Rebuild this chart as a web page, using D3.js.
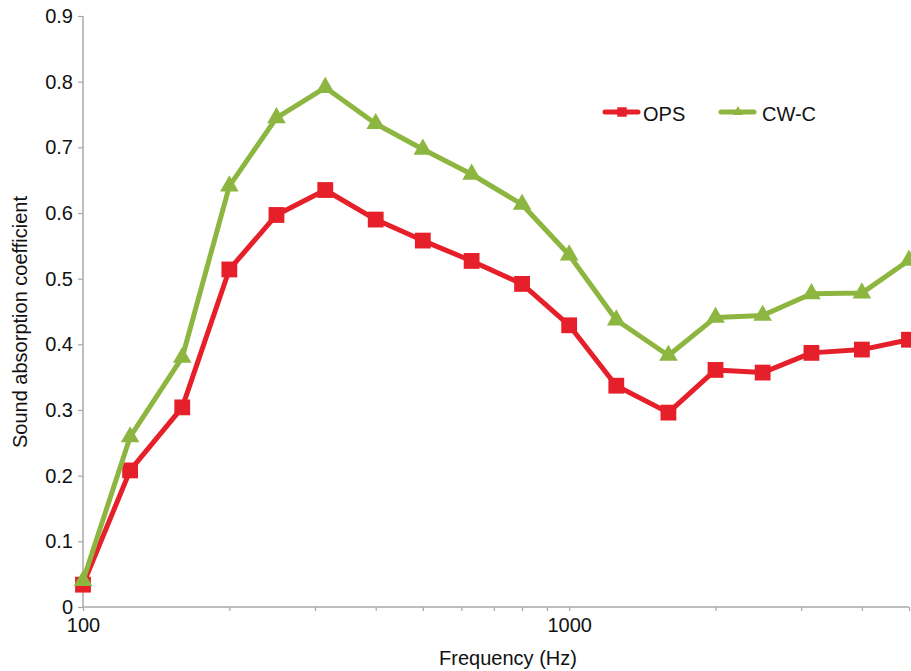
<!DOCTYPE html>
<html>
<head>
<meta charset="utf-8">
<script src="https://cdn.jsdelivr.net/npm/d3@7"></script>
<style>
  html, body { margin: 0; padding: 0; background: #fff; }
  svg { display: block; }
  text { font-family: "Liberation Sans", Arial, Helvetica, sans-serif; fill: #111; }
</style>
</head>
<body>
<svg id="chart" width="911" height="671"></svg>
<script>
// ---- data ----
const frequencies = [100, 125, 160, 200, 250, 315, 400, 500, 630, 800, 1000, 1250, 1600, 2000, 2500, 3150, 4000, 5000];
const opsValues  = [0.034, 0.208, 0.304, 0.514, 0.597, 0.635, 0.590, 0.558, 0.527, 0.492, 0.429, 0.337, 0.296, 0.361, 0.357, 0.387, 0.392, 0.407];
const cwcValues  = [0.040, 0.259, 0.380, 0.641, 0.745, 0.791, 0.736, 0.697, 0.659, 0.613, 0.536, 0.437, 0.383, 0.441, 0.444, 0.477, 0.478, 0.528];
const seriesNames = ["OPS", "CW-C"];
const yTicks = [0, 0.1, 0.2, 0.3, 0.4, 0.5, 0.6, 0.7, 0.8, 0.9];
const xTicks = [100, 200, 300, 400, 500, 600, 700, 800, 900, 1000, 2000, 3000, 4000, 5000];
const xLabelled = [100, 1000];
const xTitle = "Frequency (Hz)";
const yTitle = "Sound absorption coefficient";

// ---- layout ----
const plotLeft = 83, plotRight = 909, plotTop = 16, plotBottom = 607;
const red = "#e5202a", green = "#8db640", axisColor = "#a8a8a8";

const svg = d3.select("#chart");
const x = d3.scaleLog().domain([100, 5000]).range([plotLeft, plotRight]);
const y = d3.scaleLinear().domain([0, 0.9]).range([plotBottom, plotTop]);

// y axis
const yAxis = svg.append("g").attr("transform", `translate(${plotLeft},0)`)
  .call(d3.axisLeft(y).tickValues(yTicks).tickSize(5).tickPadding(5)
        .tickFormat(d => d === 0 ? "0" : d3.format(".1f")(d)));
// x axis
const xAxis = svg.append("g").attr("transform", `translate(0,${plotBottom})`)
  .call(d3.axisBottom(x).tickValues(xTicks).tickSize(4).tickPadding(7)
        .tickFormat(d => xLabelled.includes(d) ? String(d) : ""));

[yAxis, xAxis].forEach(g => {
  g.select(".domain").attr("stroke", axisColor).attr("stroke-width", 1.5);
  g.selectAll(".tick line").attr("stroke", axisColor).attr("stroke-width", 1.2);
  g.selectAll(".tick text").attr("font-size", 20).attr("fill", "#111")
    .attr("font-family", '"Liberation Sans", Arial, sans-serif');
});
yAxis.select(".domain").attr("d", `M0,${plotTop}V${plotBottom}`);
xAxis.select(".domain").attr("d", `M${plotLeft},0H${plotRight}`);

// titles
svg.append("text").attr("x", 508).attr("y", 665).attr("text-anchor", "middle")
  .attr("font-size", 20).text(xTitle);
svg.append("text").attr("transform", "translate(27,322) rotate(-90)")
  .attr("text-anchor", "middle").attr("font-size", 20).text(yTitle);

// series
const series = [
  { name: seriesNames[0], values: opsValues, color: red, marker: "square" },
  { name: seriesNames[1], values: cwcValues, color: green, marker: "triangle" }
];
const line = d3.line().x(d => x(d[0])).y(d => y(d[1]));
const sqSym = d3.symbol().type(d3.symbolSquare).size(250);
const triSym = d3.symbol().type(d3.symbolTriangle).size(150);

series.forEach(s => {
  const pts = frequencies.map((f, i) => [f, s.values[i]]);
  svg.append("path").datum(pts).attr("d", line)
    .attr("fill", "none").attr("stroke", s.color).attr("stroke-width", 5)
    .attr("stroke-linejoin", "round");
  svg.append("g").selectAll("path").data(pts).join("path")
    .attr("transform", d => `translate(${x(d[0])},${y(d[1])})`)
    .attr("d", s.marker === "square" ? sqSym : triSym)
    .attr("fill", s.color);
});

// legend
const legendItems = [
  { name: seriesNames[0], color: red, marker: "square", x0: 605 },
  { name: seriesNames[1], color: green, marker: "triangle", x0: 721 }
];
const ly = 112;
legendItems.forEach(it => {
  svg.append("line").attr("x1", it.x0).attr("x2", it.x0 + 33)
    .attr("y1", ly).attr("y2", ly).attr("stroke", it.color).attr("stroke-width", 5)
    .attr("stroke-linecap", "round");
  svg.append("path").attr("transform", `translate(${it.x0 + 17},${ly})`)
    .attr("d", it.marker === "square" ? d3.symbol().type(d3.symbolSquare).size(90)()
                                      : d3.symbol().type(d3.symbolTriangle).size(45)())
    .attr("fill", it.color);
  svg.append("text").attr("x", it.x0 + 38 + (it.marker === "square" ? 0 : 3)).attr("y", ly + 9)
    .attr("font-size", 20).text(it.name);
});
</script>
</body>
</html>
